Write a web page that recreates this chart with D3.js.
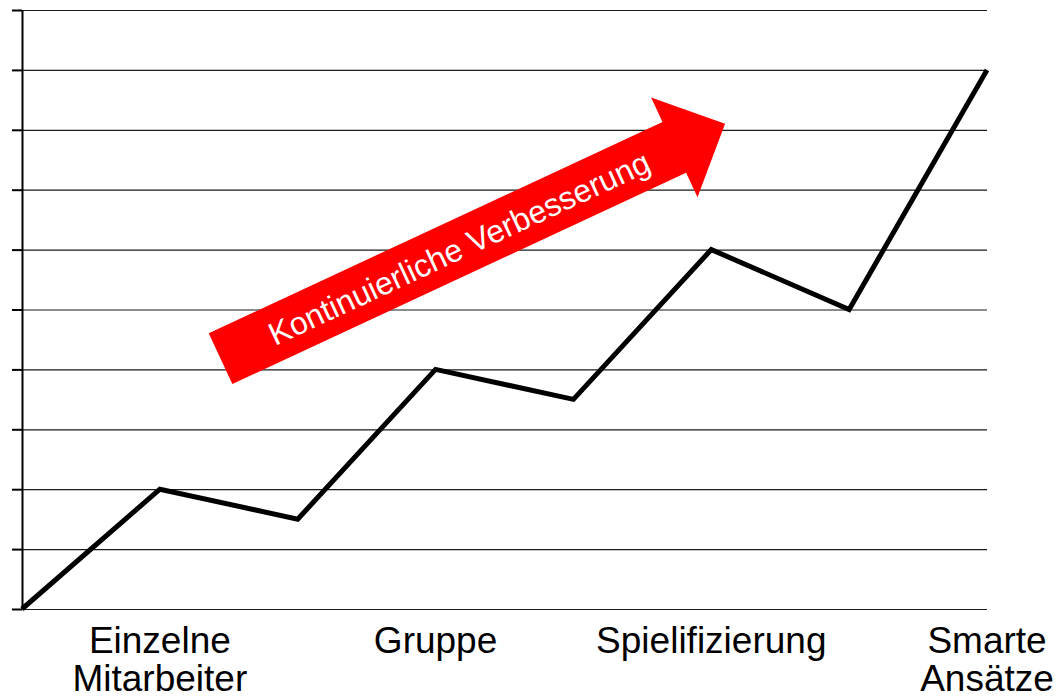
<!DOCTYPE html>
<html>
<head>
<meta charset="utf-8">
<script src="https://cdn.jsdelivr.net/npm/d3@7"></script>
<style>
  body { margin: 0; background: #fff; }
  svg { display: block; }
</style>
</head>
<body>
<script>
// Entwicklungsstufen-Chart mit Pfeil "Kontinuierliche Verbesserung"

// Stufen (x-Index) und Werte der Linie
const stages = [0, 1, 2, 3, 4, 5, 6, 7];
const values = [0, 2, 1.5, 4, 3.5, 6, 5, 9];

// Kategorien unter der Achse, an den Stufen 1, 3, 5, 7
const categories = ["Einzelne\nMitarbeiter", "Gruppe", "Spielifizierung", "Smarte\nAnsätze"];
const categoryPos = [1, 3, 5, 7];

// y-Ticks (ohne Beschriftung)
const yTicks = [0, 1, 2, 3, 4, 5, 6, 7, 8, 9, 10];

// Pfeil in Datenkoordinaten (Start, Spitze)
const arrowFrom = [1.44, 4.18];
const arrowTo = [5.10, 8.10];
const arrowLabel = "Kontinuierliche Verbesserung";

const width = 1056, height = 698;
const font = "Arial, 'Liberation Sans', sans-serif";

const x = d3.scaleLinear().domain([0, 7]).range([22, 987]);
const y = d3.scaleLinear().domain([0, 10]).range([609, 10]);

const svg = d3.select("body").append("svg")
  .attr("width", width)
  .attr("height", height);

// Gitterlinien
svg.append("g")
  .attr("transform", `translate(${x(0)},0)`)
  .call(d3.axisLeft(y).tickValues(yTicks).tickSize(-(x(7) - x(0))).tickFormat(""))
  .call(g => g.select(".domain").remove())
  .call(g => g.selectAll(".tick line").attr("stroke", "#1a1a1a").attr("stroke-width", 1.2));

// y-Achse mit kurzen Ticks
svg.append("g")
  .attr("transform", `translate(${x(0)},0)`)
  .call(d3.axisLeft(y).tickValues(yTicks).tickSize(10).tickSizeOuter(0).tickFormat(""))
  .call(g => g.select(".domain").attr("stroke", "#000").attr("stroke-width", 2))
  .call(g => g.selectAll(".tick line").attr("stroke", "#000").attr("stroke-width", 2));

// Linie
const line = d3.line()
  .x((d, i) => x(stages[i]))
  .y(d => y(d));

svg.append("path")
  .datum(values)
  .attr("fill", "none")
  .attr("stroke", "#000")
  .attr("stroke-width", 5)
  .attr("stroke-linejoin", "miter")
  .attr("d", line);

// Kategorien
const labels = svg.append("g")
  .attr("font-family", font)
  .attr("font-size", 37)
  .attr("fill", "#000")
  .attr("text-anchor", "middle");

labels.selectAll("text")
  .data(categories)
  .join("text")
    .attr("transform", (d, i) => `translate(${x(categoryPos[i])},653)`)
  .selectAll("tspan")
  .data(d => d.split("\n"))
  .join("tspan")
    .attr("x", 0)
    .attr("y", (d, i) => i * 38)
    .text(d => d);

// Pfeil
const x0 = x(arrowFrom[0]), y0 = y(arrowFrom[1]);
const x1 = x(arrowTo[0]), y1 = y(arrowTo[1]);
const len = Math.hypot(x1 - x0, y1 - y0);
const angle = Math.atan2(y1 - y0, x1 - x0) * 180 / Math.PI;
const shaftW = 56, headW = 110, headL = 56;

const arrow = svg.append("g")
  .attr("transform", `translate(${x0},${y0}) rotate(${angle})`);

arrow.append("path")
  .attr("fill", "#ff0000")
  .attr("d", d3.line()([
    [0, -shaftW / 2],
    [len - headL, -shaftW / 2],
    [len - headL, -headW / 2],
    [len, 0],
    [len - headL, headW / 2],
    [len - headL, shaftW / 2],
    [0, shaftW / 2]
  ]) + "Z");

arrow.append("text")
  .attr("x", 263)
  .attr("y", 0)
  .attr("dy", "0.36em")
  .attr("text-anchor", "middle")
  .attr("font-family", font)
  .attr("font-size", 32)
  .attr("fill", "#fff")
  .text(arrowLabel);
</script>
</body>
</html>
